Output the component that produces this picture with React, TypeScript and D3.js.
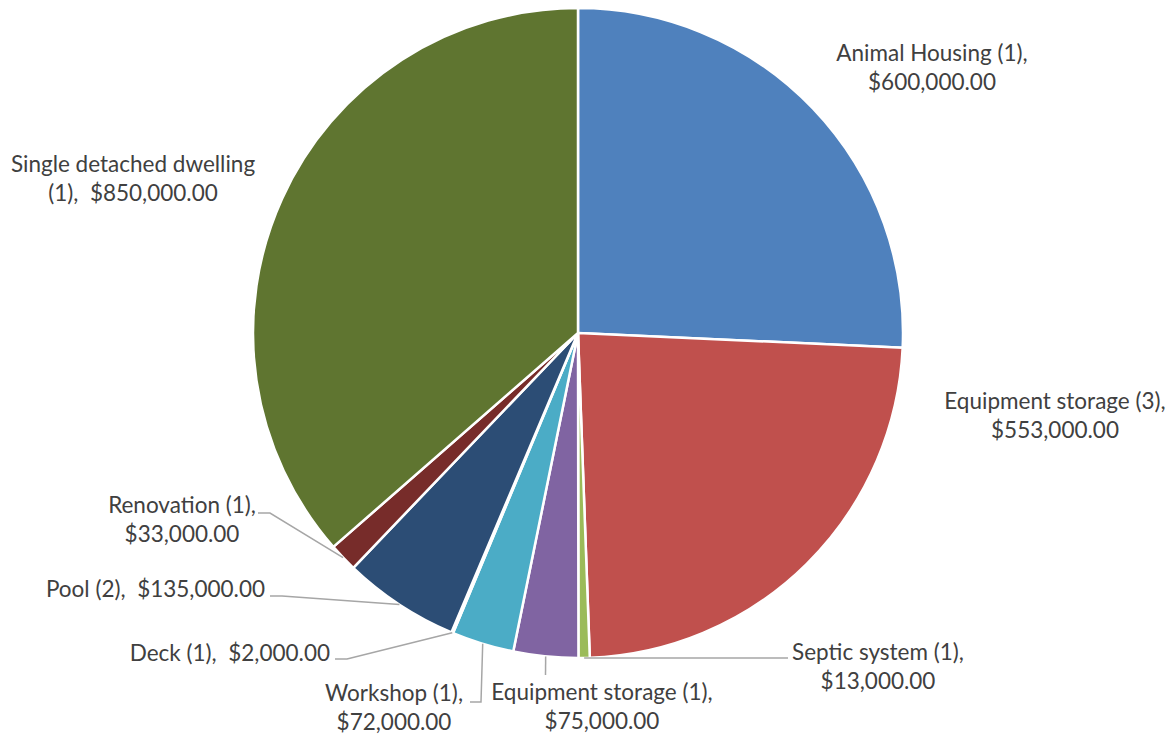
import React from "react";
import * as d3 from "d3";

const categories = [
  "Animal Housing (1)",
  "Equipment storage (3)",
  "Septic system (1)",
  "Equipment storage (1)",
  "Workshop (1)",
  "Deck (1)",
  "Pool (2)",
  "Renovation (1)",
  "Single detached dwelling (1)",
];
const values = [600000, 553000, 13000, 75000, 72000, 2000, 135000, 33000, 850000];
const colors = [
  "#4F81BD", "#C0504D", "#9BBB59", "#8064A2", "#4BACC6",
  "#F79646", "#2C4D75", "#772C2A", "#5F7530",
];
const fmt = (v: number) => "$" + d3.format(",.2f")(v);
const labelLines = (i: number): string[] => {
  const n = categories[i];
  const v = fmt(values[i]);
  if (i === 5 || i === 6) return [`${n},  ${v}`];
  if (i === 8) return ["Single detached dwelling", `(1),  ${v}`];
  return [`${n},`, v];
};
// label layout: x, first baseline y, anchor
const labelLayout = [
  { x: 932, y: 61, anchor: "middle" },
  { x: 1055, y: 409, anchor: "middle" },
  { x: 878, y: 660, anchor: "middle" },
  { x: 602, y: 700, anchor: "middle" },
  { x: 394, y: 701, anchor: "middle" },
  { x: 330, y: 661, anchor: "end" },
  { x: 265, y: 597, anchor: "end" },
  { x: 182, y: 513, anchor: "middle" },
  { x: 133, y: 172, anchor: "middle" },
];
// leader line points after the slice anchor (null = no leader)
const leaderPts: ([number, number][] | null)[] = [
  null,
  null,
  [[788, 658]],
  [[545.5, 675]],
  [[481, 702], [470, 702]],
  [[347, 659], [335, 659]],
  [[282, 596], [270, 596]],
  [[270, 513], [258, 513]],
  null,
];

const W = 1175;
const H = 735;
const cx = 578;
const cy = 333;
const R = 325;

export default function App() {
  const pie = d3.pie<number>().sort(null).value((d) => d).startAngle(0).endAngle(2 * Math.PI);
  const arcs = pie(values);
  const arc = d3.arc<d3.PieArcDatum<number>>().innerRadius(0).outerRadius(R);
  const lineGen = d3.line();
  return (
    <div style={{ position: "absolute", left: 0, top: 0 }}>
      <svg width={W} height={H} style={{ display: "block", background: "#fff" }}>
        <g transform={`translate(${cx},${cy})`}>
          {arcs.map((a, i) => (
            <path key={i} d={arc(a) || ""} fill={colors[i]} stroke="#fff" strokeWidth={2.5} strokeLinejoin="round" />
          ))}
        </g>
        {arcs.map((a, i) => {
          const pts = leaderPts[i];
          if (!pts) return null;
          const m = (a.startAngle + a.endAngle) / 2;
          const ax = cx + R * Math.sin(m);
          const ay = cy - R * Math.cos(m);
          const all: [number, number][] = [[ax, ay], ...pts];
          return <path key={"l" + i} d={lineGen(all) || ""} fill="none" stroke="#A6A6A6" strokeWidth={1.5} />;
        })}
        {categories.map((_, i) => {
          const L = labelLayout[i];
          const lines = labelLines(i);
          return (
            <text
              key={"t" + i}
              x={L.x}
              y={L.y}
              textAnchor={L.anchor as any}
              fontFamily="Lato, 'Open Sans', sans-serif"
              fontSize={22.5}
              fill="#404040"
              style={{ whiteSpace: "pre" }}
            >
              {lines.map((ln, j) => (
                <tspan key={j} x={L.x} dy={j === 0 ? 0 : 29}>
                  {ln}
                </tspan>
              ))}
            </text>
          );
        })}
      </svg>
    </div>
  );
}
